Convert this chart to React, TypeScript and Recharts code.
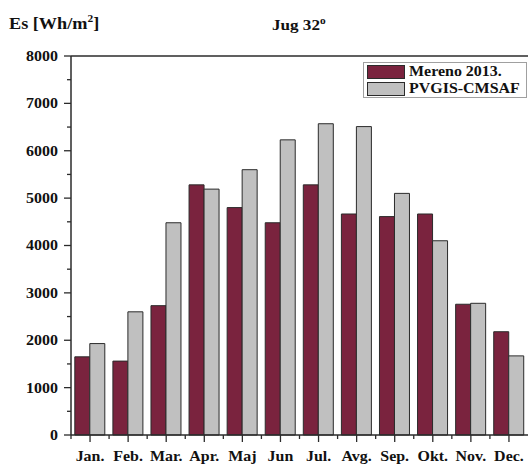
import { Bar, BarChart, Legend, ReferenceLine, XAxis, YAxis } from "recharts";

const MONTHS = ["Jan.", "Feb.", "Mar.", "Apr.", "Maj", "Jun", "Jul.", "Avg.", "Sep.", "Okt.", "Nov.", "Dec."];
const MERENO = [1650, 1560, 2730, 5280, 4800, 4480, 5280, 4665, 4610, 4665, 2760, 2180];
const PVGIS = [1930, 2600, 4480, 5190, 5600, 6230, 6570, 6510, 5100, 4100, 2780, 1670];
const Y_TICKS = [0, 500, 1000, 1500, 2000, 2500, 3000, 3500, 4000, 4500, 5000, 5500, 6000, 6500, 7000, 7500, 8000];

const SERIES = [
  { key: "mereno", name: "Mereno 2013.", color: "#7a233e" },
  { key: "pvgis", name: "PVGIS-CMSAF", color: "#c0c0c0" },
];

const data = MONTHS.map((m, i) => ({ month: m, mereno: MERENO[i], pvgis: PVGIS[i] }));

const W = 529;
const H = 464;
const Y_W = 71;
const RIGHT = 1;
const BAND = (W - Y_W - RIGHT) / MONTHS.length;
const FONT = "'Liberation Serif', 'Times New Roman', serif";
const INK = "#2b2b2b";
const SX = 1.14; // the source picture is stretched sideways

function YTick({ x, y, payload }: any) {
  const v = payload.value as number;
  const major = v % 1000 === 0;
  return (
    <g>
      <line x1={x - (major ? 7 : 4)} x2={x} y1={y} y2={y} stroke={INK} strokeWidth={1.3} />
      {major && (
        <text
          transform={`translate(${x - 13},${y}) scale(${SX},1)`}
          textAnchor="end"
          dy="0.35em"
          fontFamily={FONT}
          fontWeight="bold"
          fontSize={14}
          fill="#111"
        >
          {v}
        </text>
      )}
    </g>
  );
}

function XTick({ x, y, payload }: any) {
  return (
    <g>
      <line x1={x} x2={x} y1={y} y2={y + 7} stroke={INK} strokeWidth={1.3} />
      <line x1={x - BAND / 2} x2={x - BAND / 2} y1={y} y2={y + 4} stroke={INK} strokeWidth={1.3} />
      <text
        transform={`translate(${x},${y + 26}) scale(${SX},1)`}
        textAnchor="middle"
        fontFamily={FONT}
        fontWeight="bold"
        fontSize={14}
        fill="#111"
      >
        {payload.value}
      </text>
    </g>
  );
}

function LegendBox() {
  return (
    <div
      style={{
        width: 164,
        height: 36,
        border: "1px solid #a0a0a0",
        background: "#fff",
        padding: "1px 0 0 3px",
        boxSizing: "border-box",
        fontFamily: FONT,
        fontWeight: "bold",
        fontSize: 14,
        color: "#111",
      }}
    >
      {SERIES.map((s) => (
        <div key={s.key} style={{ display: "flex", alignItems: "center", height: 16, marginBottom: 1 }}>
          <div style={{ width: 36, height: 12, background: s.color, border: `1px solid ${INK}` }} />
          <span style={{ marginLeft: 4, transform: `scaleX(${SX})`, transformOrigin: "left center", whiteSpace: "nowrap" }}>
            {s.name}
          </span>
        </div>
      ))}
    </div>
  );
}

export default function App() {
  return (
    <div style={{ position: "absolute", left: 0, top: 0, width: W, height: H, background: "#fff" }}>
      <BarChart
        width={W}
        height={H}
        data={data}
        margin={{ top: 56, right: RIGHT, bottom: 0, left: 0 }}
        barCategoryGap="10%"
        barGap={0}
      >
        <YAxis
          width={Y_W}
          domain={[0, 8000]}
          ticks={Y_TICKS}
          interval={0}
          tickSize={0}
          tickMargin={0}
          tickLine={false}
          tick={<YTick />}
          axisLine={{ stroke: INK, strokeWidth: 1.5 }}
        />
        <XAxis
          dataKey="month"
          height={29}
          interval={0}
          tickSize={0}
          tickMargin={0}
          tickLine={false}
          tick={<XTick />}
          axisLine={{ stroke: INK, strokeWidth: 1.5 }}
        />
        <ReferenceLine y={8000} stroke={INK} strokeWidth={1.5} />
        {SERIES.map((s) => (
          <Bar
            key={s.key}
            dataKey={s.key}
            name={s.name}
            fill={s.color}
            stroke={INK}
            strokeWidth={1}
            isAnimationActive={false}
          />
        ))}
        <Legend
          layout="vertical"
          align="center"
          verticalAlign="middle"
          content={<LegendBox />}
          wrapperStyle={{ top: 62, left: 363, width: 164, height: 36 }}
        />
      </BarChart>
      <svg width={W} height={H} style={{ position: "absolute", left: 0, top: 0, pointerEvents: "none" }}>
        <text
          transform={`translate(9,29) scale(${SX},1)`}
          fontFamily={FONT}
          fontWeight="bold"
          fontSize={16}
          fill="#111"
        >
          Es [Wh/m<tspan dy={-7} fontSize={10}>2</tspan>
          <tspan dy={7}>]</tspan>
        </text>
        <text
          transform={`translate(272,30) scale(${SX},1)`}
          fontFamily={FONT}
          fontWeight="bold"
          fontSize={15}
          fill="#111"
        >
          Jug 32<tspan dy={-6} fontSize={10}>o</tspan>
        </text>
      </svg>
    </div>
  );
}
